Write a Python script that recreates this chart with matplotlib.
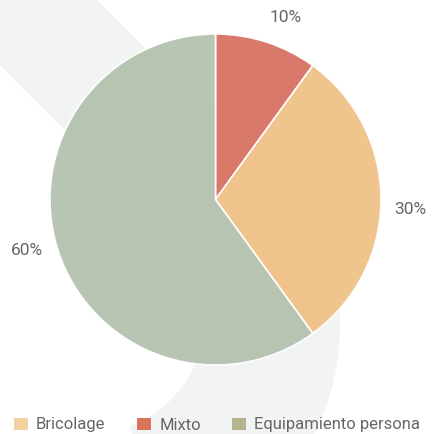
import numpy as np
import matplotlib
matplotlib.use("Agg")
import matplotlib.pyplot as plt
from matplotlib.patches import Patch, Polygon

labels = ["Mixto", "Bricolage", "Equipamiento persona"]
values = [10, 30, 60]
slice_colors = ["#d87566", "#f0c289", "#b5c3b0"]
legend_order = ["Bricolage", "Mixto", "Equipamiento persona"]
legend_colors = {"Bricolage": "#f5cfa0", "Mixto": "#d9735e", "Equipamiento persona": "#b5b48e"}

FONT = ["Roboto", "DejaVu Sans"]
TXT = "#666666"

W, H = 432, 434
fig = plt.figure(figsize=(W / 100, H / 100), dpi=100)

# Decorative background band (pixel coordinates, y down)
bg = fig.add_axes([0, 0, 1, 1])
bg.set_xlim(0, W)
bg.set_ylim(H, 0)
bg.axis("off")

n = np.array([1, -1]) / np.sqrt(2)
d = np.array([1, 1]) / np.sqrt(2)


def boundary(center, rad, c, a_end, reverse=False):
    s = (c - (center[0] - center[1])) / np.sqrt(2)
    foot = center + s * n
    h = np.sqrt(max(rad ** 2 - s ** 2, 0))
    p = foot - h * d
    a0 = np.arctan2(p[1] - center[1], p[0] - center[0])
    angs = np.linspace(a0, np.deg2rad(a_end), 200)
    pts = [p - d * 700] + [center + rad * np.array([np.cos(a), np.sin(a)]) for a in angs]
    return pts[::-1] if reverse else pts


outer = boundary(np.array([95.0, 325.0]), 245.0, 97.0, 70)
inner = boundary(np.array([90.0, 318.0]), 115.0, -65.0, 70, reverse=True)
band = Polygon(np.array(outer + inner), closed=True, facecolor="#f2f4f3", edgecolor="none")
bg.add_patch(band)

# Pie
cx, cy, r = 215.5, 199.5, 165.5
ax = fig.add_axes([(cx - r) / W, 1 - (cy + r) / H, 2 * r / W, 2 * r / H])
ax.set_facecolor("none")
wedges, _, autotexts = ax.pie(values, colors=slice_colors, startangle=90, counterclock=False,
                              autopct="%d%%", pctdistance=1.18,
                              wedgeprops=dict(edgecolor="white", linewidth=1.2, alpha=0.97),
                              textprops=dict(color=TXT, fontsize=12.5, family=FONT))
for w, t in zip(wedges, autotexts):
    mid = np.deg2rad((w.theta1 + w.theta2) / 2 - 3)
    t.set_position((1.18 * np.cos(mid), 1.18 * np.sin(mid)))
    t.set_clip_on(False)
ax.set_xlim(-1, 1)
ax.set_ylim(-1, 1)
ax.set_aspect("equal")
ax.axis("off")

handles = [Patch(facecolor=legend_colors[l], edgecolor="none", label=l) for l in legend_order]
fig.legend(handles=handles, loc="center left", bbox_to_anchor=(14 / W, 1 - 425 / H), ncol=3, frameon=False,
           prop=dict(family=FONT, size=12), labelcolor=TXT, handlelength=0.84, handleheight=0.72,
           handletextpad=0.48, columnspacing=1.9, borderpad=0, borderaxespad=0)

fig.savefig("out.png", dpi=100, facecolor="white")
